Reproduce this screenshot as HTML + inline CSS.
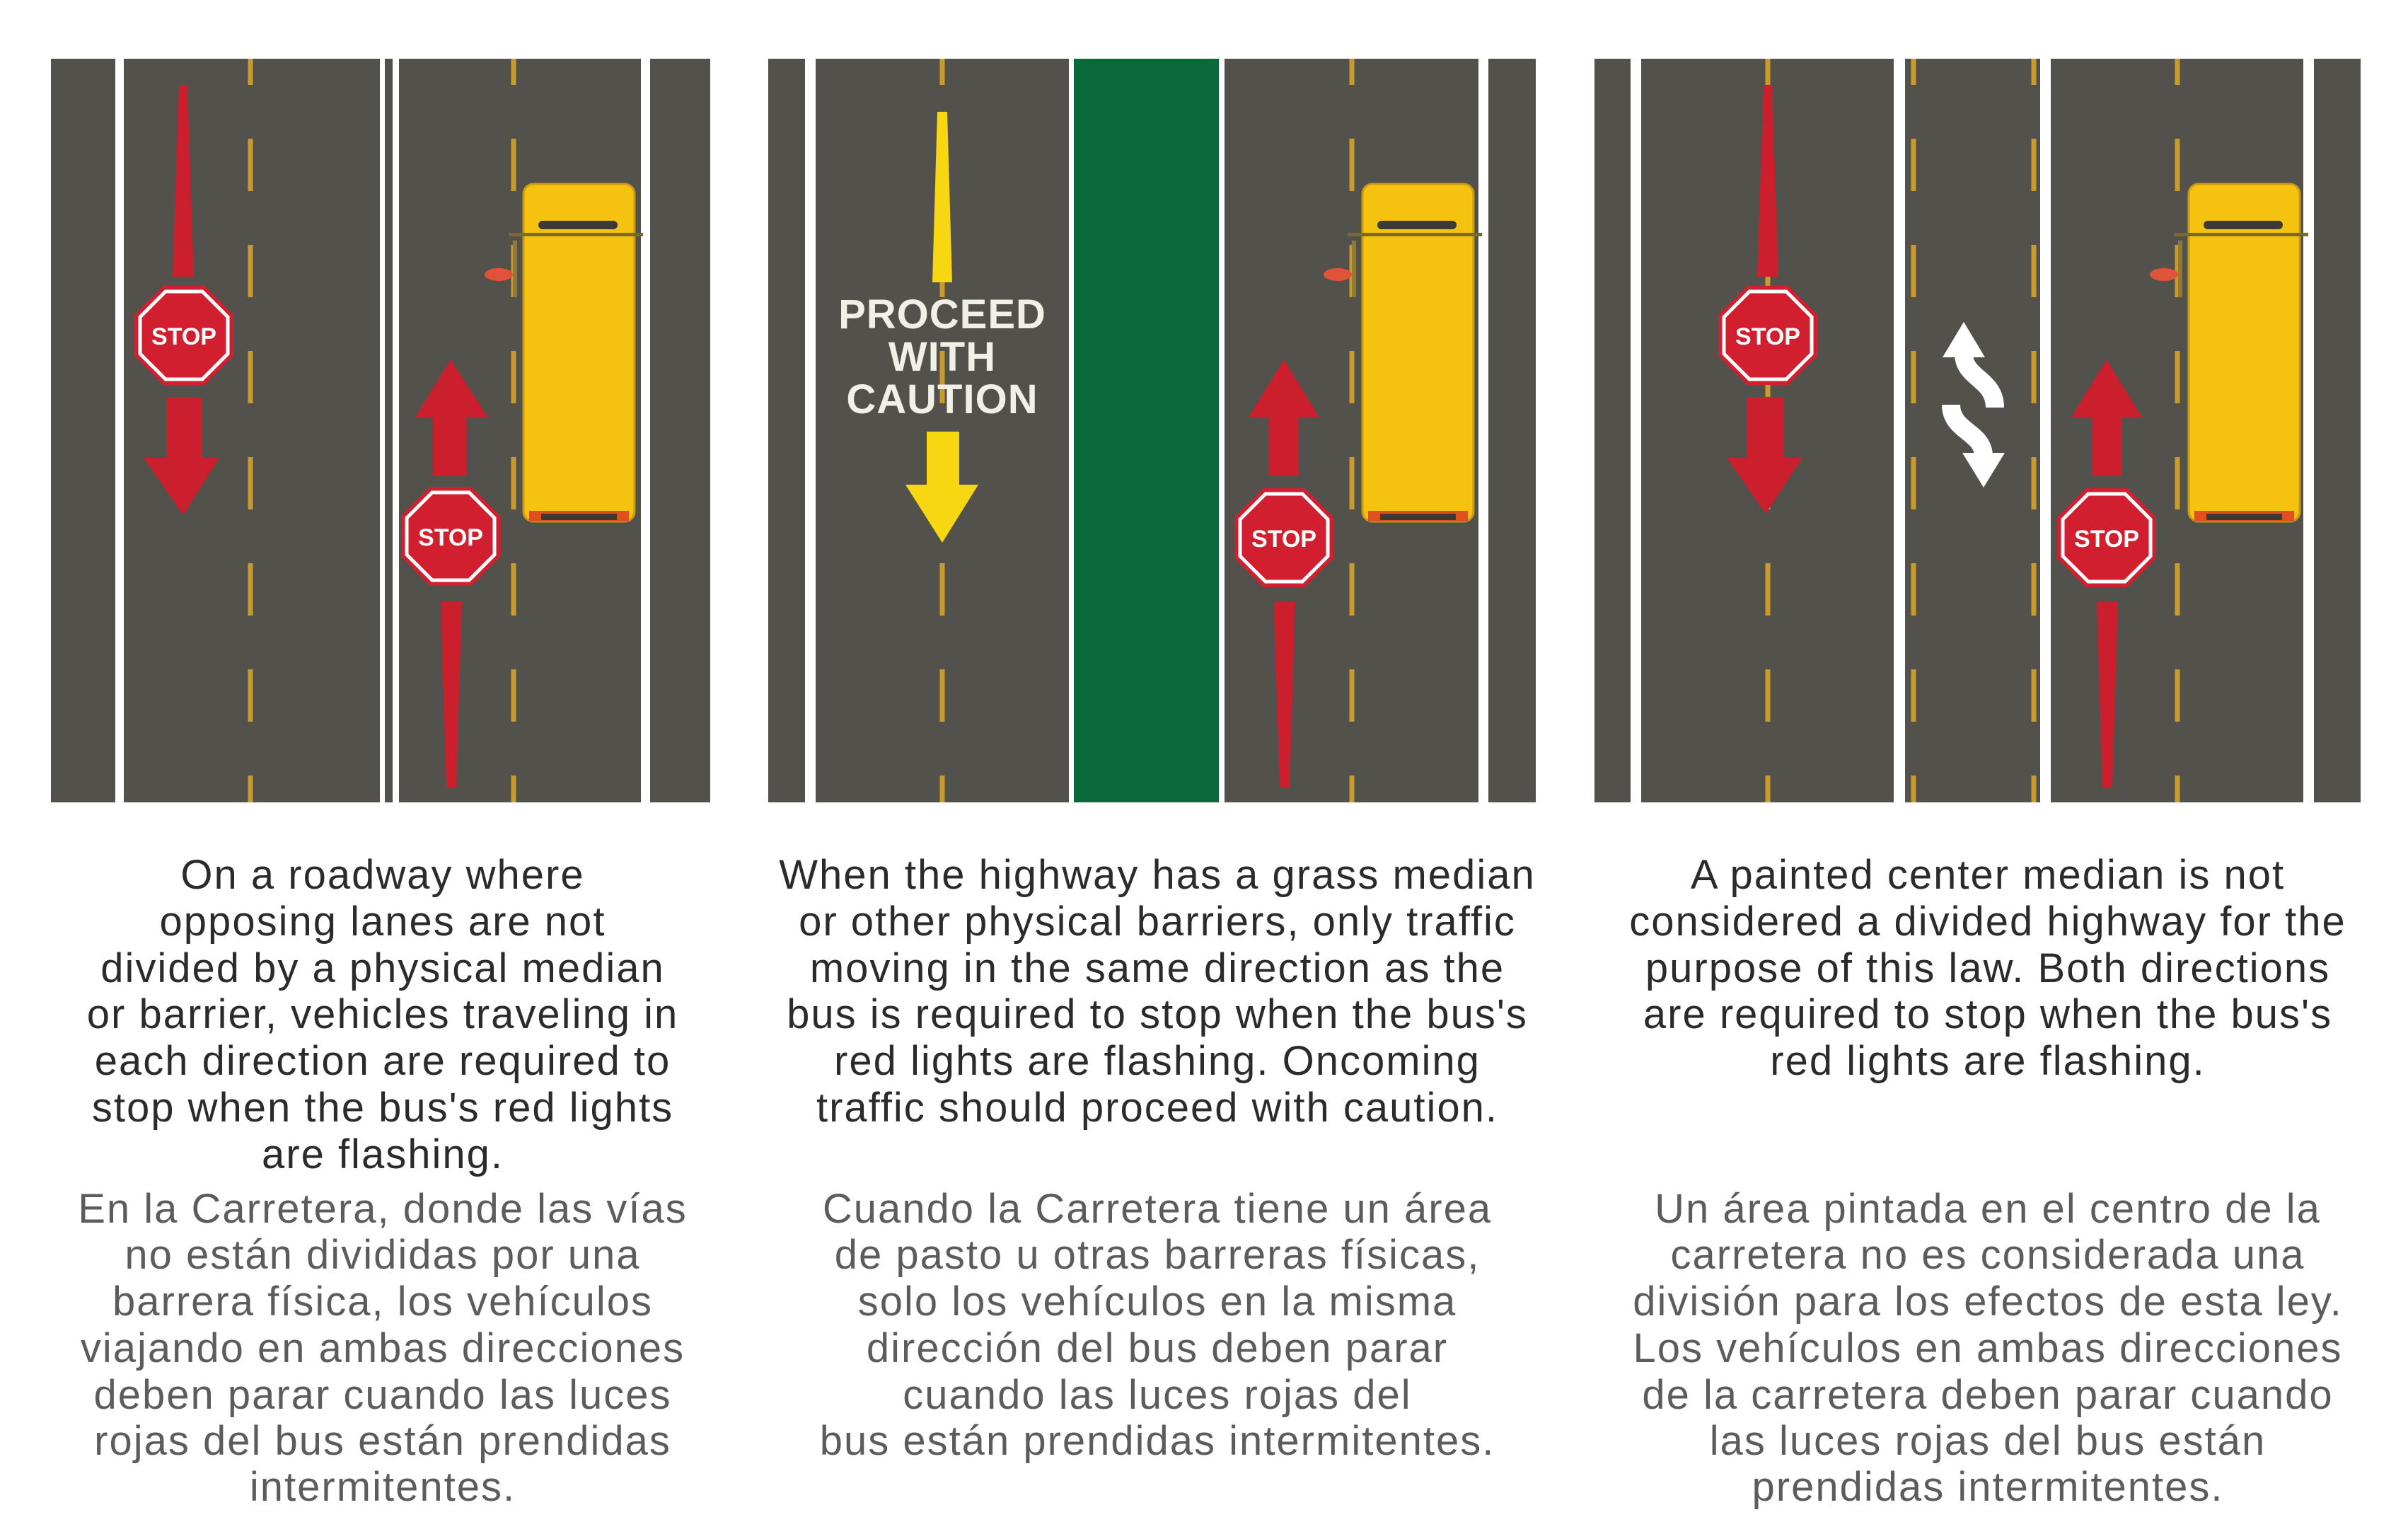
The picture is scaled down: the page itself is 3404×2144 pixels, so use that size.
<!DOCTYPE html>
<html><head><meta charset="utf-8"><style>
html,body{margin:0;padding:0;background:#fff;}
svg{display:block;}
.en{font-family:"Liberation Sans",sans-serif;font-size:58px;letter-spacing:2px;fill:#2b2b2b;}
.es{font-family:"Liberation Sans",sans-serif;font-size:58px;letter-spacing:2px;fill:#5c5c5c;}
.st{font-family:"Liberation Sans",sans-serif;font-size:34px;font-weight:bold;fill:#fff;}
.pc{font-family:"Liberation Sans",sans-serif;font-size:58px;font-weight:bold;letter-spacing:1px;fill:#f2efe6;}
</style></head><body>
<svg width="3404" height="2144" viewBox="0 0 3404 2144" xmlns="http://www.w3.org/2000/svg">
<defs>
<g id="stop">
<polygon points="70,29 29,70 -29,70 -70,29 -70,-29 -29,-70 29,-70 70,-29" fill="#d11f30"/>
<polygon points="62,26 26,62 -26,62 -62,26 -62,-26 -26,-62 26,-62 62,-26" fill="none" stroke="#fff" stroke-width="5"/>
</g>
<g id="bus">
<rect x="0" y="0" width="157" height="477" rx="14" fill="#f5c30f" stroke="#c99a12" stroke-width="3"/>
<rect x="21" y="52" width="112" height="12" rx="6" fill="#3b3a36"/>
<rect x="-21" y="69" width="190" height="5" fill="#7a6a30"/>
<rect x="8" y="462" width="141" height="15" fill="#e0501e"/>
<rect x="25" y="466" width="107" height="9" fill="#3b3a36"/>
<ellipse cx="-35" cy="128" rx="20" ry="9" fill="#e0533a"/>
<rect x="-15" y="80" width="6" height="80" fill="#8a7a40"/>
</g>
</defs>

<!-- PANEL 1 -->
<g fill="#53514b">
<rect x="72" y="83" width="91" height="1051"/>
<rect x="175" y="83" width="362" height="1051"/>
<rect x="544" y="83" width="11" height="1051"/>
<rect x="564" y="83" width="342" height="1051"/>
<rect x="919" y="83" width="85" height="1051"/>
</g>
<g stroke="#c99a2e" stroke-width="7" stroke-dasharray="74 76" stroke-dashoffset="37">
<line x1="354" y1="83" x2="354" y2="1134"/>
<line x1="726" y1="83" x2="726" y2="1134"/>
</g>
<polygon points="253,121 265,121 274,391 244,391" fill="#cc1f2d"/>
<use href="#stop" x="260" y="474"/>
<text class="st" x="260" y="487" text-anchor="middle">STOP</text>
<polygon points="235,561 286,561 286,647 310,647 259,728 203,647 235,647" fill="#cc1f2d"/>
<polygon points="637,508 690,590 660,590 660,673 612,673 612,590 587,590" fill="#cc1f2d"/>
<use href="#stop" x="637" y="758"/>
<text class="st" x="637" y="771" text-anchor="middle">STOP</text>
<polygon points="623,850 653,850 645,1114 631,1114" fill="#cc1f2d"/>
<use href="#bus" x="740" y="260"/>

<!-- PANEL 2 -->
<g fill="#53514b">
<rect x="1086" y="83" width="52" height="1051"/>
<rect x="1153" y="83" width="358" height="1051"/>
<rect x="1731" y="83" width="359" height="1051"/>
<rect x="2104" y="83" width="67" height="1051"/>
</g>
<rect x="1518" y="83" width="205" height="1051" fill="#0b6a3a"/>
<g stroke="#c99a2e" stroke-width="7" stroke-dasharray="74 76" stroke-dashoffset="37">
<line x1="1332" y1="83" x2="1332" y2="1134"/>
<line x1="1911" y1="83" x2="1911" y2="1134"/>
</g>
<rect x="1322" y="150" width="20" height="30" fill="#53514b"/>
<polygon points="1325,158 1339,158 1346,399 1318,399" fill="#f7d711"/>
<text class="pc" x="1332" y="464" text-anchor="middle">PROCEED</text>
<text class="pc" x="1332" y="524" text-anchor="middle">WITH</text>
<text class="pc" x="1332" y="584" text-anchor="middle">CAUTION</text>
<polygon points="1310,610 1356,610 1356,685 1383,685 1332,767 1280,685 1310,685" fill="#f7d711"/>
<polygon points="1815,508 1865,590 1836,590 1836,673 1794,673 1794,590 1765,590" fill="#cc1f2d"/>
<use href="#stop" x="1815" y="760"/>
<text class="st" x="1815" y="773" text-anchor="middle">STOP</text>
<polygon points="1801,850 1831,850 1823,1114 1809,1114" fill="#cc1f2d"/>
<use href="#bus" x="1926" y="260"/>

<!-- PANEL 3 -->
<g fill="#53514b">
<rect x="2254" y="83" width="51" height="1051"/>
<rect x="2320" y="83" width="357" height="1051"/>
<rect x="2693" y="83" width="191" height="1051"/>
<rect x="2899" y="83" width="357" height="1051"/>
<rect x="3271" y="83" width="66" height="1051"/>
</g>
<g stroke="#c99a2e" stroke-width="7" stroke-dasharray="74 76" stroke-dashoffset="37">
<line x1="2499" y1="83" x2="2499" y2="1134"/>
<line x1="3078" y1="83" x2="3078" y2="1134"/>
<line x1="2705" y1="83" x2="2705" y2="1134"/>
<line x1="2875" y1="83" x2="2875" y2="1134"/>
</g>
<polygon points="2493,121 2505,121 2514,391 2484,391" fill="#cc1f2d"/>
<use href="#stop" x="2499" y="474"/>
<text class="st" x="2499" y="487" text-anchor="middle">STOP</text>
<polygon points="2470,561 2522,561 2522,647 2548,647 2496,726 2441,647 2470,647" fill="#cc1f2d"/>
<polygon points="2776,455 2806,505 2746,505" fill="#fff"/>
<path d="M2776,500 C2776,535 2820,535 2820,576" fill="none" stroke="#fff" stroke-width="26"/>
<path d="M2758,572 C2758,610 2804,610 2804,645" fill="none" stroke="#fff" stroke-width="26"/>
<polygon points="2804,689 2834,640 2774,640" fill="#fff"/>
<polygon points="2978,508 3028,590 2999,590 2999,673 2957,673 2957,590 2928,590" fill="#cc1f2d"/>
<use href="#stop" x="2978" y="760"/>
<text class="st" x="2978" y="773" text-anchor="middle">STOP</text>
<polygon points="2964,850 2994,850 2986,1114 2972,1114" fill="#cc1f2d"/>
<use href="#bus" x="3094" y="260"/>

<!-- TEXT -->
<g class="en" text-anchor="middle">
<text x="541" y="1256">On a roadway where</text>
<text x="541" y="1322">opposing lanes are not</text>
<text x="541" y="1388">divided by a physical median</text>
<text x="541" y="1453">or barrier, vehicles traveling in</text>
<text x="541" y="1519">each direction are required to</text>
<text x="541" y="1585">stop when the bus's red lights</text>
<text x="541" y="1651">are flashing.</text>
<text x="1636" y="1256">When the highway has a grass median</text>
<text x="1636" y="1322">or other physical barriers, only traffic</text>
<text x="1636" y="1388">moving in the same direction as the</text>
<text x="1636" y="1453">bus is required to stop when the bus's</text>
<text x="1636" y="1519">red lights are flashing. Oncoming</text>
<text x="1636" y="1585">traffic should proceed with caution.</text>
<text x="2810" y="1256">A painted center median is not</text>
<text x="2810" y="1322">considered a divided highway for the</text>
<text x="2810" y="1388">purpose of this law. Both directions</text>
<text x="2810" y="1453">are required to stop when the bus's</text>
<text x="2810" y="1519">red lights are flashing.</text>
</g>
<g class="es" text-anchor="middle">
<text x="541" y="1728">En la Carretera, donde las vías</text>
<text x="541" y="1793">no están divididas por una</text>
<text x="541" y="1859">barrera física, los vehículos</text>
<text x="541" y="1925">viajando en ambas direcciones</text>
<text x="541" y="1991">deben parar cuando las luces</text>
<text x="541" y="2056">rojas del bus están prendidas</text>
<text x="541" y="2121">intermitentes.</text>
<text x="1636" y="1728">Cuando la Carretera tiene un área</text>
<text x="1636" y="1793">de pasto u otras barreras físicas,</text>
<text x="1636" y="1859">solo los vehículos en la misma</text>
<text x="1636" y="1925">dirección del bus deben parar</text>
<text x="1636" y="1991">cuando las luces rojas del</text>
<text x="1636" y="2056">bus están prendidas intermitentes.</text>
<text x="2810" y="1728">Un área pintada en el centro de la</text>
<text x="2810" y="1793">carretera no es considerada una</text>
<text x="2810" y="1859">división para los efectos de esta ley.</text>
<text x="2810" y="1925">Los vehículos en ambas direcciones</text>
<text x="2810" y="1991">de la carretera deben parar cuando</text>
<text x="2810" y="2056">las luces rojas del bus están</text>
<text x="2810" y="2121">prendidas intermitentes.</text>
</g>
</svg>
</body></html>
